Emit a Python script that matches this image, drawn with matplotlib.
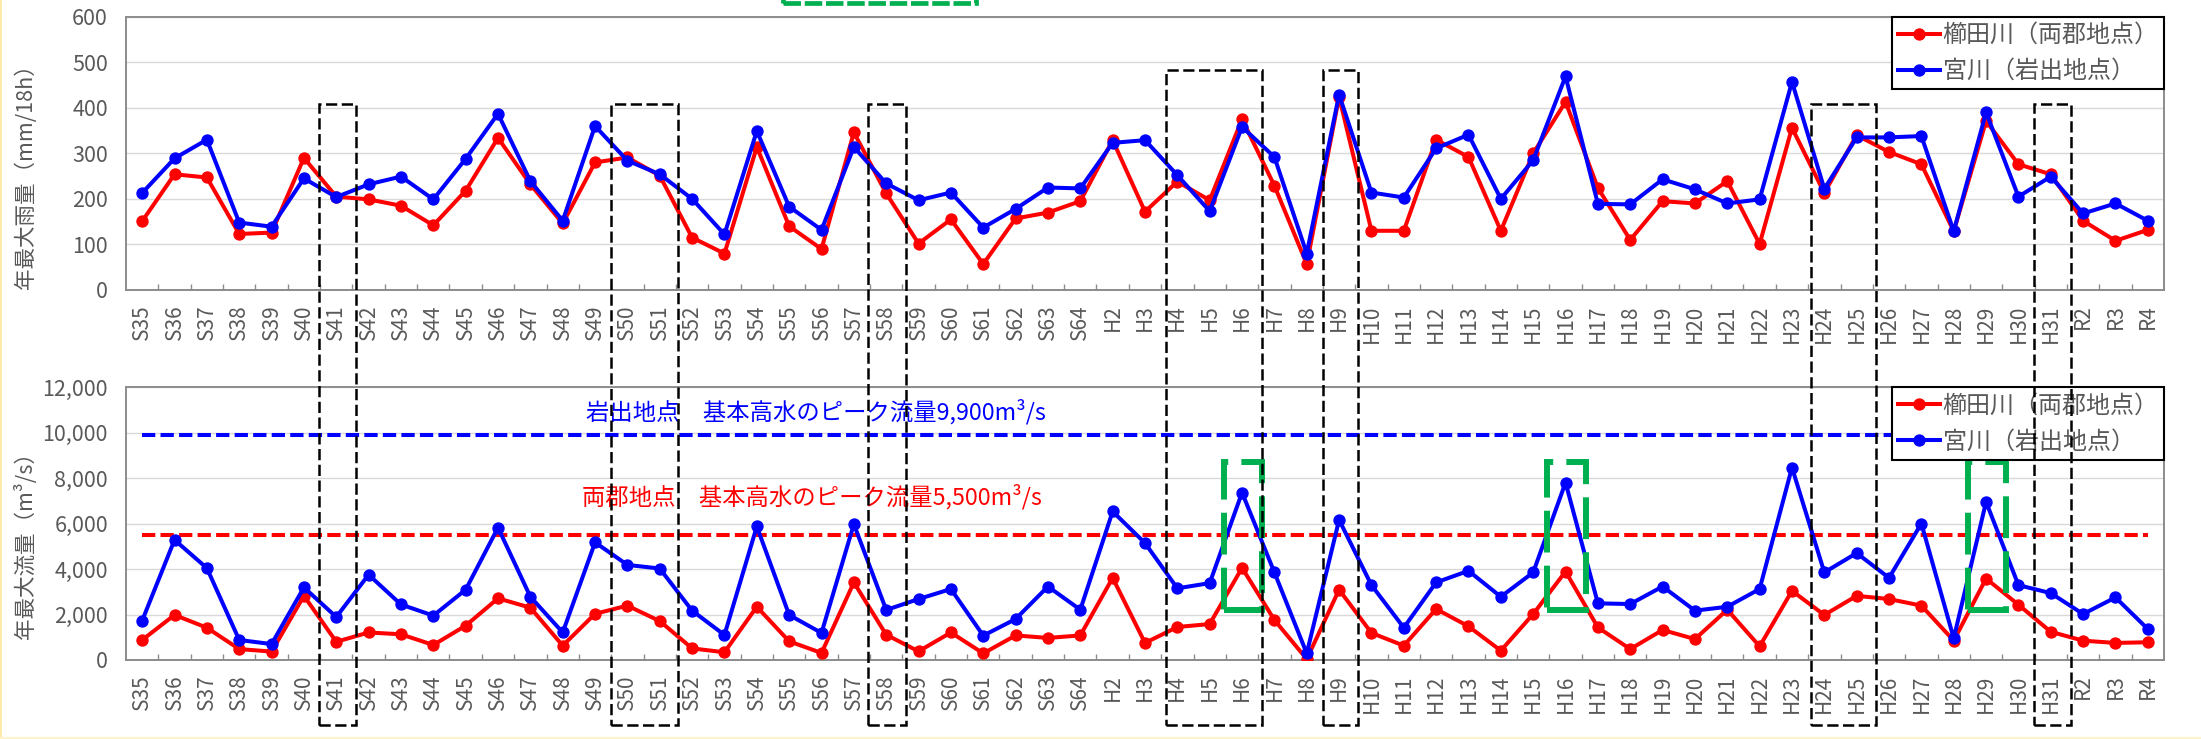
import numpy as np
import matplotlib
matplotlib.use("Agg")
import matplotlib.pyplot as plt
from matplotlib.patches import Rectangle
from matplotlib.lines import Line2D
import matplotlib.transforms as mtransforms
from matplotlib.ticker import FuncFormatter, MultipleLocator

plt.rcParams['font.family'] = ['Noto Sans CJK JP', 'DejaVu Sans']

years = ["S35", "S36", "S37", "S38", "S39", "S40", "S41", "S42", "S43", "S44",
         "S45", "S46", "S47", "S48", "S49", "S50", "S51", "S52", "S53", "S54",
         "S55", "S56", "S57", "S58", "S59", "S60", "S61", "S62", "S63", "S64",
         "H2", "H3", "H4", "H5", "H6", "H7", "H8", "H9", "H10", "H11",
         "H12", "H13", "H14", "H15", "H16", "H17", "H18", "H19", "H20", "H21",
         "H22", "H23", "H24", "H25", "H26", "H27", "H28", "H29", "H30", "H31",
         "R2", "R3", "R4"]

# 年最大雨量 (mm/18h)
rain_kushida = [151, 254, 247, 123, 126, 290, 205, 199, 185, 142,
                218, 334, 232, 146, 280, 291, 251, 115, 80, 314,
                140, 90, 346, 212, 102, 155, 57, 157, 170, 195,
                329, 172, 238, 197, 375, 229, 57, 424, 130, 130,
                330, 292, 130, 300, 413, 224, 110, 195, 190, 239,
                101, 356, 213, 340, 303, 276, 129, 371, 276, 254,
                152, 108, 132]
rain_miya = [213, 289, 330, 148, 139, 245, 204, 232, 249, 199,
             288, 387, 239, 152, 360, 284, 254, 200, 122, 349,
             183, 132, 314, 234, 197, 214, 137, 178, 225, 223,
             323, 329, 252, 173, 358, 292, 80, 429, 214, 203,
             311, 341, 200, 285, 469, 189, 188, 243, 221, 190,
             199, 457, 222, 335, 335, 338, 129, 390, 205, 249,
             168, 190, 152]

# 年最大流量 (m3/s)
flow_kushida = [880, 1980, 1420, 480, 370, 2820, 800, 1210, 1130, 660,
                1510, 2710, 2300, 630, 2030, 2390, 1710, 510, 340, 2340,
                820, 310, 3410, 1110, 380, 1210, 290, 1080, 970, 1080,
                3610, 750, 1450, 1580, 4050, 1760, 40, 3090, 1190, 630,
                2240, 1480, 410, 2020, 3890, 1430, 480, 1320, 920, 2210,
                600, 3040, 1980, 2820, 2680, 2390, 850, 3580, 2430, 1240,
                850, 750, 780]
flow_miya = [1730, 5280, 4040, 880, 700, 3190, 1890, 3750, 2440, 1950,
             3090, 5820, 2780, 1210, 5170, 4180, 4020, 2170, 1100, 5870,
             1980, 1190, 5970, 2200, 2680, 3120, 1070, 1800, 3230, 2210,
             6530, 5140, 3150, 3380, 7360, 3850, 290, 6160, 3290, 1420,
             3410, 3920, 2780, 3850, 7800, 2490, 2460, 3230, 2170, 2340,
             3120, 8460, 3850, 4700, 3610, 6000, 950, 6950, 3290, 2940,
             2020, 2750, 1360]

peak_iwade = 9900
peak_ryogun = 5500
legend_labels = ["櫛田川（両郡地点）", "宮川（岩出地点）"]
peak_texts = ["岩出地点　基本高水のピーク流量9,900m³/s",
              "両郡地点　基本高水のピーク流量5,500m³/s"]

# highlighted periods
black_spans = [("S41", "S41"), ("S50", "S51"), ("S58", "S58"), ("H4", "H6"),
               ("H9", "H9"), ("H24", "H25"), ("H31", "H31")]
green_years = ["H6", "H16", "H29"]

W, H = 2201, 739
fig = plt.figure(figsize=(W / 100, H / 100), dpi=100)


def px_axes(l, t, r, b):
    return [l / W, 1 - b / H, (r - l) / W, (b - t) / H]


ax1 = fig.add_axes(px_axes(126, 16.7, 2164, 290))
ax2 = fig.add_axes(px_axes(126, 387, 2164, 660))

n = len(years)
x = np.arange(n)
GRAY = '#595959'
LW = 2.9
MS = 7.9


def style(ax, ymax, ystep, ylabel, ly):
    ax.set_xlim(-0.5, n - 0.5)
    ax.set_ylim(0, ymax)
    ax.yaxis.set_major_locator(MultipleLocator(ystep))
    ax.yaxis.set_major_formatter(FuncFormatter(lambda v, p: f"{v:,.0f}"))
    ax.grid(axis='y', color='#D9D9D9', lw=1.0)
    ax.set_axisbelow(True)
    for s in ax.spines.values():
        s.set_color('#8C8C8C')
        s.set_linewidth(1.4)
    ax.set_xticks(x)
    ax.set_xticklabels(years, rotation=90, fontsize=15, color=GRAY)
    ax.set_xticks(np.arange(0.5, n - 1, 1), minor=True)
    ax.tick_params(axis='x', which='major', length=0, pad=10.5)
    ax.tick_params(axis='x', which='minor', direction='in', length=4,
                   width=1, color='#8C8C8C')
    ax.tick_params(axis='y', length=0, pad=13, labelsize=15.5, labelcolor=GRAY)
    ax.set_ylabel(ylabel, fontsize=15.5, color=GRAY)
    ax.yaxis.set_label_coords(-0.0437, ly)


def add_legend(ax):
    handles = [Line2D([], [], color='#FF0000', marker='o', lw=LW, ms=MS),
               Line2D([], [], color='#0000FF', marker='o', lw=LW, ms=MS)]
    leg = ax.legend(handles, legend_labels, loc='upper right',
                    bbox_to_anchor=(1, 1), borderaxespad=0, frameon=True,
                    fancybox=False, edgecolor='black', framealpha=1,
                    fontsize=17.3, handlelength=1.75, handletextpad=0.12,
                    borderpad=0.22, labelspacing=0.42, numpoints=1)
    leg.get_frame().set_linewidth(1.5)
    leg.set_zorder(20)
    for t in leg.get_texts():
        t.set_color(GRAY)


# --- top chart: rainfall
ax1.plot(x, rain_kushida, color='#FF0000', marker='o', lw=LW, ms=MS, zorder=3)
ax1.plot(x, rain_miya, color='#0000FF', marker='o', lw=LW, ms=MS, zorder=4)
style(ax1, 600, 100, "年最大雨量（mm/18h）", 0.434)
add_legend(ax1)

# --- bottom chart: discharge
ax2.plot([0, n - 1], [peak_iwade] * 2, color='#0000FF', lw=LW,
         ls=(0, (3.3, 1.3)), zorder=2.5)
ax2.plot([0, n - 1], [peak_ryogun] * 2, color='#FF0000', lw=LW,
         ls=(0, (3.3, 1.3)), zorder=2.5)
ax2.plot(x, flow_kushida, color='#FF0000', marker='o', lw=LW, ms=MS, zorder=3)
ax2.plot(x, flow_miya, color='#0000FF', marker='o', lw=LW, ms=MS, zorder=4)
style(ax2, 12000, 2000, "年最大流量（m³/s）", 0.438)
ax2.text(13.72, 10900, peak_texts[0], color='#0000FF', fontsize=16.8,
         ha='left', va='center')
ax2.text(13.6, 7180, peak_texts[1], color='#FF0000', fontsize=16.8,
         ha='left', va='center')
add_legend(ax2)

# green dashed boxes around peaks
for yr in green_years:
    i = years.index(yr)
    ax2.add_patch(Rectangle((i - 0.56, 2200), 1.19, 6500, fill=False,
                            ec='#00B050', lw=4.3, ls=(0, (7, 2.2)),
                            zorder=6, clip_on=False))

# black dashed boxes across both charts
margins = {("S41", "S41"): (0.52, 0.62), ("S50", "S51"): (0.52, 0.55),
           ("S58", "S58"): (0.55, 0.60), ("H4", "H6"): (0.35, 0.62),
           ("H9", "H9"): (0.49, 0.57), ("H24", "H25"): (0.42, 0.59),
           ("H31", "H31"): (0.51, 0.63)}
tall = {("H4", "H6"), ("H9", "H9")}
trans = mtransforms.blended_transform_factory(ax1.transData, fig.transFigure)
bottom_f = 1 - 725 / H
for span in black_spans:
    i0, i1 = years.index(span[0]), years.index(span[1])
    ml, mr = margins[span]
    top_px = 70 if span in tall else 104
    top_f = 1 - top_px / H
    fig.add_artist(Rectangle((i0 - ml, bottom_f), (i1 + mr) - (i0 - ml),
                             top_f - bottom_f, transform=trans, fill=False,
                             ec='black', lw=1.8, ls=(0, (4.5, 1.8)),
                             zorder=10))

# cut-off green box at the very top
fig.add_artist(Rectangle((783 / W, 1 - 2.5 / H), 193 / W, 0.2,
                         transform=fig.transFigure, fill=False, ec='#00B050',
                         lw=3.4, ls=(0, (3.7, 0.8)), zorder=10))

# thin yellow frame on left & bottom
fig.add_artist(Line2D([0.6 / W, 0.6 / W], [0, 1], transform=fig.transFigure,
                      color='#FFE699', lw=1.2))
fig.add_artist(Line2D([0, 1], [1.5 / H, 1.5 / H], transform=fig.transFigure,
                      color='#FFF2CC', lw=1.5))

fig.savefig("out.png", dpi=100)
